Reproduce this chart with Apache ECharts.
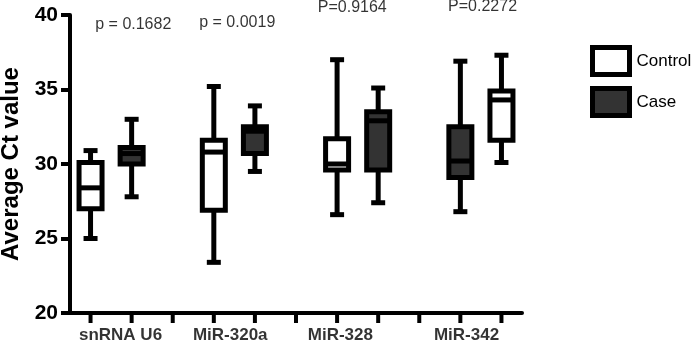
<!DOCTYPE html>
<html>
<head>
<meta charset="utf-8">
<script src="https://cdn.jsdelivr.net/npm/echarts@6/dist/echarts.min.js"></script>
<style>
  html, body { margin: 0; padding: 0; background: #fff; }
  #chart { width: 693px; height: 344px; }
</style>
</head>
<body>
<div id="chart"></div>
<script>
// groups on the x axis
const categories = ["snRNA U6", "MiR-320a", "MiR-328", "MiR-342"]

// [min, Q1, median, Q3, max] per group
const controlStats = [
  [25.0, 27.0, 28.4, 30.1, 30.9],
  [23.4, 26.9, 30.8, 31.6, 35.2],
  [26.6, 29.6, 30.0, 31.7, 37.0],
  [30.1, 31.6, 34.3, 34.9, 37.3],
]
const caseStats = [
  [27.8, 30.0, 30.7, 31.1, 33.0],
  [29.5, 30.7, 32.2, 32.5, 33.9],
  [27.4, 29.6, 32.9, 33.5, 35.1],
  [26.8, 29.1, 30.2, 32.5, 36.9],
]

// p-value annotations (one per group)
const pTexts = ["p = 0.1682", "p = 0.0019", "P=0.9164", "P=0.2272"]
const pValueY = [39.35, 39.48, 40.47, 40.56]

const yTicks = { min: 20, max: 40, interval: 5 }

// layout: three slots per group (two boxes + a gap), the last group draws Case first
const slotCount = 11
const caseFirst = [false, false, false, true]
const slotOf = (g, isCase) => g * 3 + (isCase !== caseFirst[g] ? 1 : 0)
const labelSlot = [0.73, 3.4, 6.08, 9.15]
const labelY = 18.5
const pSlot = [1.04, 3.57, 6.37, 9.54]

const FONT = "Liberation Sans, Arial, sans-serif"

// box + whiskers drawn through the axes' own coord mapping
function boxRenderer(fill) {
  return function (params, api) {
    const x = api.value(0)
    const at = (dim) => api.coord([x, api.value(dim)])
    const pMin = at(1), pQ1 = at(2), pMed = at(3), pQ3 = at(4), pMax = at(5)
    const cx = pMin[0]
    const half = 11.5
    const cap = 7
    const line = (x1, y1, x2, y2) => ({
      type: "line",
      shape: { x1, y1, x2, y2 },
      style: { stroke: "#000", lineWidth: 5 },
    })
    return {
      type: "group",
      children: [
        line(cx, pMax[1], cx, pQ3[1]),
        line(cx, pQ1[1], cx, pMin[1]),
        line(cx - cap, pMax[1], cx + cap, pMax[1]),
        line(cx - cap, pMin[1], cx + cap, pMin[1]),
        {
          type: "rect",
          shape: { x: cx - half, y: pQ3[1], width: half * 2, height: pQ1[1] - pQ3[1] },
          style: { fill, stroke: "#000", lineWidth: 5 },
        },
        line(cx - half, pMed[1], cx + half, pMed[1]),
      ],
    }
  }
}

// x-axis tick under each slot (axis ticks on this axis don't render in this setup)
function slotTick(params, api) {
  const p = api.coord([api.value(0), yTicks.min])
  return {
    type: "line",
    shape: { x1: p[0], y1: p[1], x2: p[0], y2: p[1] + 10 },
    style: { stroke: "#000", lineWidth: 4 },
  }
}

// text placed at data coordinates (no symbol)
function textSeries(name, points, texts, style) {
  return {
    name,
    type: "scatter",
    symbolSize: 0,
    clip: false,
    silent: true,
    data: points,
    label: Object.assign(
      {
        show: true,
        position: "inside",
        formatter: (p) => texts[p.dataIndex],
        fontFamily: FONT,
        color: "#000",
        textBorderWidth: 0,
      },
      style
    ),
  }
}

const chart = echarts.init(document.getElementById("chart"), null, { renderer: "canvas" })

chart.setOption({
  animation: false,
  grid: { left: 70, right: 171, top: 15, bottom: 31, outerBoundsMode: "none" },
  legend: {
    orient: "vertical",
    left: 585,
    top: 40,
    itemWidth: 37,
    itemHeight: 27,
    itemGap: 9,
    selectedMode: false,
    textStyle: { fontFamily: FONT, fontSize: 17, color: "#000", padding: [0, 0, 0, 2] },
    data: [
      { name: "Control", icon: "rect", itemStyle: { color: "#fff", borderColor: "#000", borderWidth: 5 } },
      { name: "Case", icon: "rect", itemStyle: { color: "#333", borderColor: "#000", borderWidth: 5 } },
    ],
  },
  xAxis: {
    type: "value",
    min: -0.5,
    max: slotCount - 0.5,
    splitLine: { show: false },
    axisLine: { show: true, onZero: false, lineStyle: { color: "#000", width: 4 } },
    axisTick: { show: false },
    axisLabel: { show: false },
  },
  yAxis: {
    type: "value",
    min: yTicks.min,
    max: yTicks.max,
    interval: yTicks.interval,
    name: "Average Ct value",
    nameLocation: "middle",
    nameGap: 44,
    nameTextStyle: { fontFamily: FONT, fontSize: 24, fontWeight: "bold", color: "#000" },
    splitLine: { show: false },
    axisLine: { show: true, onZero: false, lineStyle: { color: "#000", width: 4 } },
    axisTick: { show: true, length: 9, lineStyle: { color: "#000", width: 4 } },
    axisLabel: { margin: 12, fontFamily: FONT, fontSize: 21, fontWeight: "bold", color: "#000" },
  },
  series: [
    {
      name: "Control",
      type: "custom",
      renderItem: boxRenderer("#fff"),
      encode: { x: 0, y: [1, 2, 3, 4, 5] },
      data: controlStats.map((s, g) => [slotOf(g, false), ...s]),
      z: 3,
    },
    {
      name: "Case",
      type: "custom",
      renderItem: boxRenderer("#333"),
      encode: { x: 0, y: [1, 2, 3, 4, 5] },
      data: caseStats.map((s, g) => [slotOf(g, true), ...s]),
      z: 3,
    },
    {
      name: "ticks",
      type: "custom",
      silent: true,
      clip: false,
      renderItem: slotTick,
      encode: { x: 0 },
      data: Array.from({ length: slotCount }, (_, i) => [i]),
      z: 4,
    },
    textSeries("p", pSlot.map((x, g) => [x, pValueY[g]]), pTexts, { fontSize: 16 }),
    textSeries("groups", labelSlot.map((x) => [x, labelY]), categories, { fontSize: 17, fontWeight: "bold" }),
  ],
})
</script>
</body>
</html>
